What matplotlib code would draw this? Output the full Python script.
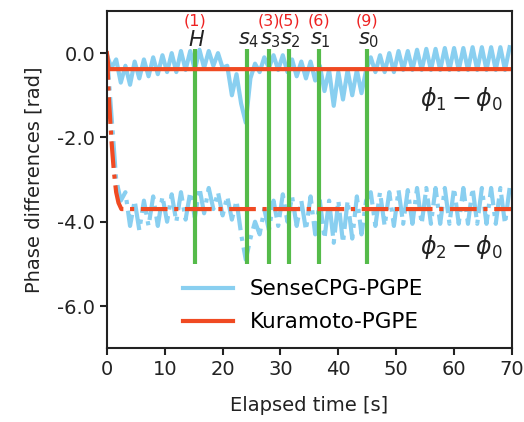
import numpy as np
import matplotlib.pyplot as plt

# time samples of the SenseCPG traces (s)
t = np.arange(88) * 0.8

# SenseCPG-PGPE, phi1 - phi0 (rad)
sense_phi1 = [-0.05, -0.35, -0.15, -0.7, -0.3, -0.75, -0.2, -0.6, -0.15, -0.55,
              -0.1, -0.5, -0.05, -0.45, 0.0, -0.45, 0.05, -0.4, 0.05, -0.4,
              0.08, -0.35, 0.05, -0.3, 0.0, -0.35, -0.3, -1.0, -0.5, -1.2,
              -1.65, -0.6, -0.25, -0.45, -0.1, -0.35, -0.05, -0.4, -0.05, -0.45,
              -0.15, -0.55, -0.2, -0.6, -0.2, -0.65, -0.3, -0.9, -0.4, -1.25,
              -0.45, -1.1, -0.4, -1.0, -0.4, -0.95, -0.4, -0.1, -0.45, -0.05,
              -0.45, 0.0, -0.45, 0.05, -0.4, 0.05, -0.4, 0.08, -0.4, 0.1,
              -0.4, 0.1, -0.4, 0.12, -0.4, 0.12, -0.4, 0.12, -0.4, 0.14,
              -0.4, 0.14, -0.4, 0.14, -0.4, 0.14, -0.4, 0.14]

# SenseCPG-PGPE, phi2 - phi0 (rad)
sense_phi2 = [0.0, -1.5, -3.0, -3.5, -3.3, -4.1, -3.5, -4.2, -3.5, -4.1,
              -3.4, -4.1, -3.4, -4.0, -3.35, -4.0, -3.3, -3.95, -3.3, -3.9,
              -3.2, -3.8, -3.2, -3.7, -3.3, -3.85, -3.4, -3.95, -3.5, -4.3,
              -4.9, -4.4, -4.0, -4.3, -3.7, -4.2, -3.5, -4.1, -3.35, -4.0,
              -3.4, -4.1, -3.5, -4.2, -3.4, -4.3, -3.5, -4.4, -3.5, -4.5,
              -3.5, -4.5, -3.5, -4.4, -3.4, -4.3, -3.5, -3.3, -4.1, -3.3,
              -4.1, -3.3, -4.1, -3.25, -4.05, -3.25, -4.05, -3.2, -4.05, -3.2,
              -4.05, -3.2, -4.05, -3.2, -4.05, -3.2, -4.05, -3.2, -4.05, -3.2,
              -4.05, -3.2, -4.05, -3.2, -4.05, -3.2, -4.05, -3.2]

# Kuramoto-PGPE
kura_t1 = [0.0, 0.3, 70.0]
kura_phi1 = [0.0, -0.38, -0.38]
kura_t2 = [0.0, 0.4, 0.8, 1.2, 1.6, 2.0, 2.5, 70.0]
kura_phi2 = [0.0, -1.2, -2.1, -2.8, -3.3, -3.55, -3.7, -3.7]

# events
event_t = [15.2, 24.2, 28.0, 31.4, 36.6, 44.9]
event_names = ['$H$', '$s_4$', '$s_3$', '$s_2$', '$s_1$', '$s_0$']
event_nums = ['(1)', '', '(3)', '(5)', '(6)', '(9)']

blue = '#89CFF0'
red = '#F04A22'
green = '#55BB4A'

fig = plt.figure(figsize=(5.24, 4.22), dpi=100)
ax = fig.add_axes([0.204, 0.175, 0.773, 0.799])

ax.plot(t, sense_phi1, color=blue, lw=3, label='SenseCPG-PGPE')
ax.plot(t, sense_phi2, color=blue, lw=3, ls='-.')
ax.vlines(event_t, -5.0, 0.1, color=green, lw=3)
ax.plot(kura_t1, kura_phi1, color=red, lw=3, label='Kuramoto-PGPE')
ax.plot(kura_t2, kura_phi2, color=red, lw=3, ls='-.')

for x, name, num in zip(event_t, event_names, event_nums):
    ax.text(x + 0.3, 0.08, name, ha='center', va='bottom', fontsize=15, color='#222222')
    if num:
        ax.text(x, 0.58, num, ha='center', va='bottom', fontsize=11.5, color='#EE2222')

ax.text(68.5, -1.1, r'$\phi_1 - \phi_0$', ha='right', va='center', fontsize=17, color='#222222')
ax.text(68.5, -4.6, r'$\phi_2 - \phi_0$', ha='right', va='center', fontsize=17, color='#222222')

ax.set_xlim(0, 70)
ax.set_ylim(-7, 1)
ax.set_yticks([0, -2, -4, -6])
ax.set_yticklabels(['0.0', '-2.0', '-4.0', '-6.0'])
ax.set_xticks(range(0, 71, 10))
ax.tick_params(labelsize=14, length=5, width=1.5, colors='#222222')
for s in ax.spines.values():
    s.set_linewidth(1.5)
    s.set_color('#222222')

ax.set_xlabel('Elapsed time [s]', fontsize=14, color='#222222', labelpad=12)
ax.set_ylabel('Phase differences [rad]', fontsize=14, color='#222222', labelpad=10)

ax.legend(loc='lower center', bbox_to_anchor=(0.485, -0.01), frameon=False, fontsize=15.5,
          handlelength=2.3, labelspacing=0.6)

fig.savefig('out.png', dpi=100)
